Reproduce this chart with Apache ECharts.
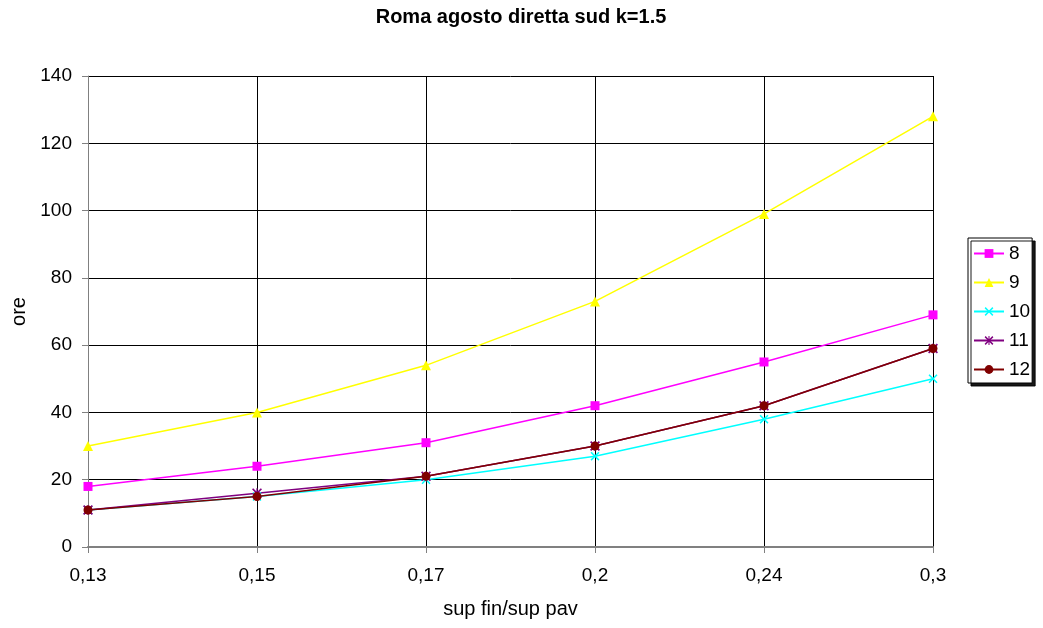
<!DOCTYPE html>
<html><head><meta charset="utf-8">
<script src="https://cdn.jsdelivr.net/npm/echarts@6/dist/echarts.min.js"></script>
<style>html,body{margin:0;padding:0;background:#fff}#c{width:1043px;height:628px}</style>
</head><body><div id="c"></div>
<script>
const categories = ['0,13','0,15','0,17','0,2','0,24','0,3'];
const s8  = [18, 24, 31, 42, 55, 69];
const s9  = [30, 40, 54, 73, 99, 128];
const s10 = [11, 15, 20, 27, 38, 50];
const s11 = [11, 16, 21, 30, 42, 59];
const s12 = [11, 15, 21, 30, 42, 59];
const seriesNames = ['8','9','10','11','12'];

const xPath = 'path://M0,1.2 L1.2,0 L5,3.8 L8.8,0 L10,1.2 L6.2,5 L10,8.8 L8.8,10 L5,6.2 L1.2,10 L0,8.8 L3.8,5 Z';
const starPath = 'path://M0,1.2 L1.2,0 L5,3.8 L8.8,0 L10,1.2 L6.2,5 L10,8.8 L8.8,10 L5,6.2 L1.2,10 L0,8.8 L3.8,5 Z M4.4,0 L5.6,0 L5.6,10 L4.4,10 Z';
const FONT = 'Liberation Sans, Arial';

function mk(name, data, color, symbol, size) {
  return {
    name, type: 'line', data, symbol, symbolSize: size,
    lineStyle: { color, width: 1.5 },
    itemStyle: { color },
    emphasis: { disabled: true },
    animation: false
  };
}
const chart = echarts.init(document.getElementById('c'), null, { renderer: 'canvas' });
chart.setOption({
  backgroundColor: '#fff',
  animation: false,
  title: {
    text: 'Roma agosto diretta sud k=1.5', left: 516, top: 2, textAlign: 'center',
    textStyle: { fontFamily: FONT, fontSize: 20, fontWeight: 'bold', color: '#000' }
  },
  legend: {
    orient: 'vertical', left: 968, top: 238,
    data: seriesNames,
    itemWidth: 30, itemHeight: 11, itemGap: 10,
    padding: [6, 2, 4, 5],
    backgroundColor: '#fff', borderColor: '#000', borderWidth: 1,
    shadowColor: 'rgba(0,0,0,0.9)', shadowOffsetX: 3, shadowOffsetY: 3, shadowBlur: 0,
    textStyle: { fontFamily: FONT, fontSize: 19, lineHeight: 19, color: '#000', padding: [0,0,0,0] }
  },
  grid: { left: 88, right: 110, top: 76, bottom: 81, containLabel: false },
  xAxis: {
    type: 'category', data: categories, boundaryGap: false,
    name: 'sup fin/sup pav', nameLocation: 'middle', nameGap: 52,
    nameTextStyle: { fontFamily: FONT, fontSize: 20, color: '#000' },
    axisLine: { lineStyle: { color: '#808080', width: 2 } },
    axisTick: { show: true, length: 6, lineStyle: { color: '#808080' } },
    axisLabel: { fontFamily: FONT, fontSize: 19, color: '#000', margin: 19 },
    splitLine: { show: true, lineStyle: { color: '#000', width: 1 } }
  },
  yAxis: {
    type: 'value', min: 0, max: 140, interval: 20,
    name: 'ore', nameLocation: 'middle', nameGap: 58, nameRotate: 90,
    nameTextStyle: { fontFamily: FONT, fontSize: 20, color: '#000' },
    axisLine: { show: true, lineStyle: { color: '#808080', width: 1 } },
    axisTick: { show: true, length: 6, lineStyle: { color: '#808080' } },
    axisLabel: { fontFamily: FONT, fontSize: 19, color: '#000', margin: 16 },
    splitLine: { show: true, lineStyle: { color: '#000', width: 1 } }
  },
  series: [
    mk('8', s8, '#FF00FF', 'rect', 9),
    mk('9', s9, '#FFFF00', 'triangle', 10),
    mk('10', s10, '#00FFFF', xPath, 9),
    mk('11', s11, '#800080', starPath, 10),
    mk('12', s12, '#800000', 'circle', 9)
  ]
});
</script></body></html>
